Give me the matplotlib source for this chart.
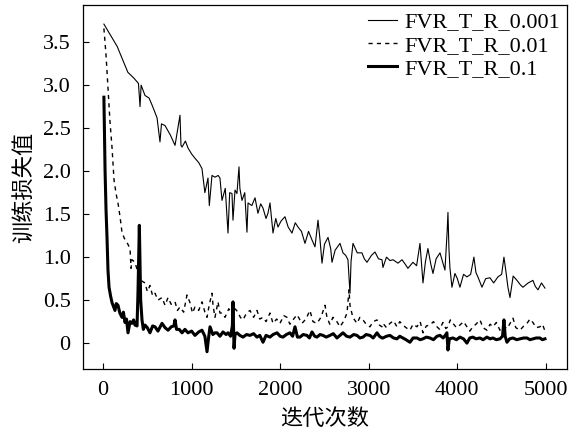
import numpy as np
import matplotlib
matplotlib.use("Agg")
import matplotlib.pyplot as plt

plt.rcParams['font.family'] = ['Liberation Serif', 'Noto Sans CJK SC']
plt.rcParams['font.size'] = 16

# (iteration, loss)
loss_0001 = [(10, 3.71), (160, 3.45), (280, 3.15), (350, 3.08), (400, 3.02), (418, 2.75), (430, 3.00),
             (474, 2.88), (520, 2.85), (553, 2.77), (610, 2.62), (643, 2.34), (660, 2.55), (700, 2.53),
             (760, 2.42), (813, 2.30), (869, 2.65), (880, 2.30), (892, 2.28), (930, 2.35), (959, 2.27),
             (1000, 2.20), (1038, 2.15), (1080, 2.10), (1117, 2.03), (1150, 1.75), (1185, 1.92),
             (1200, 1.60), (1230, 1.95), (1264, 1.93), (1300, 1.95), (1320, 1.92), (1343, 1.66),
             (1380, 1.80), (1411, 1.28), (1430, 1.75), (1456, 1.74), (1467, 1.43), (1490, 1.78),
             (1512, 1.74), (1535, 2.05), (1545, 1.80), (1569, 1.66), (1600, 1.75), (1625, 1.29),
             (1637, 1.63), (1680, 1.60), (1716, 1.69), (1749, 1.51), (1780, 1.62), (1806, 1.57),
             (1840, 1.45), (1862, 1.51), (1885, 1.63), (1919, 1.28), (1950, 1.45), (1975, 1.35),
             (2010, 1.42), (2054, 1.47), (2090, 1.35), (2133, 1.28), (2170, 1.40), (2201, 1.35),
             (2240, 1.30), (2280, 1.16), (2320, 1.30), (2359, 1.20), (2393, 1.12), (2427, 1.43),
             (2450, 1.20), (2472, 0.93), (2500, 1.15), (2540, 1.23), (2570, 1.10), (2585, 0.94),
             (2620, 1.08), (2675, 1.16), (2709, 1.05), (2740, 1.02), (2765, 0.97), (2788, 0.58),
             (2800, 0.95), (2822, 1.16), (2870, 1.05), (2923, 1.05), (2950, 0.98), (2980, 0.94),
             (3030, 1.02), (3070, 1.06), (3110, 0.98), (3149, 0.97), (3160, 0.88), (3200, 1.00),
             (3240, 0.96), (3273, 0.97), (3330, 0.93), (3375, 0.97), (3410, 0.92), (3442, 0.87),
             (3499, 0.94), (3540, 0.90), (3578, 1.16), (3612, 0.70), (3640, 0.95), (3668, 1.10),
             (3700, 0.92), (3725, 0.81), (3760, 0.98), (3804, 1.05), (3840, 0.92), (3860, 0.85),
             (3885, 1.30), (3894, 1.52), (3905, 1.10), (3916, 0.88), (3939, 0.65), (3973, 0.81),
             (4000, 0.75), (4029, 0.65), (4070, 0.80), (4108, 0.77), (4150, 0.80), (4187, 1.00),
             (4210, 0.82), (4232, 0.77), (4278, 0.65), (4320, 0.75), (4368, 0.76), (4410, 0.70),
             (4458, 0.77), (4500, 0.80), (4526, 1.00), (4550, 0.82), (4571, 0.65), (4594, 0.53),
             (4630, 0.78), (4673, 0.73), (4710, 0.68), (4740, 0.65), (4800, 0.70), (4853, 0.73),
             (4880, 0.66), (4910, 0.62), (4950, 0.70), (4989, 0.64)]

loss_001 = [(10, 3.66), (34, 3.35), (56, 2.97), (79, 2.57), (102, 2.27), (124, 1.90), (147, 1.74),
            (169, 1.63), (192, 1.47), (214, 1.29), (240, 1.22), (271, 1.17), (305, 1.10), (316, 0.87),
            (327, 0.97), (361, 0.94), (400, 0.80), (440, 0.72), (474, 0.70), (500, 0.60), (530, 0.67),
            (560, 0.55), (587, 0.58), (620, 0.50), (666, 0.53), (700, 0.44), (734, 0.53), (770, 0.45),
            (813, 0.48), (840, 0.38), (869, 0.42), (910, 0.36), (948, 0.56), (982, 0.47), (1010, 0.35),
            (1038, 0.42), (1080, 0.38), (1117, 0.48), (1150, 0.36), (1174, 0.30), (1200, 0.45),
            (1230, 0.58), (1242, 0.44), (1264, 0.30), (1298, 0.48), (1320, 0.35), (1343, 0.35),
            (1377, 0.30), (1420, 0.40), (1460, 0.32), (1490, 0.40), (1524, 0.36), (1550, 0.30),
            (1580, 0.27), (1620, 0.35), (1659, 0.38), (1700, 0.30), (1738, 0.38), (1770, 0.28),
            (1806, 0.30), (1840, 0.25), (1885, 0.35), (1919, 0.23), (1960, 0.28), (1998, 0.23),
            (2040, 0.32), (2077, 0.30), (2110, 0.22), (2144, 0.27), (2190, 0.33), (2246, 0.23),
            (2290, 0.28), (2336, 0.38), (2370, 0.25), (2415, 0.23), (2460, 0.30), (2506, 0.44),
            (2528, 0.30), (2560, 0.22), (2596, 0.30), (2640, 0.25), (2675, 0.19), (2720, 0.26),
            (2754, 0.35), (2777, 0.62), (2788, 0.44), (2820, 0.30), (2867, 0.23), (2900, 0.30),
            (2935, 0.27), (2970, 0.22), (3013, 0.19), (3050, 0.25), (3093, 0.27), (3120, 0.21),
            (3149, 0.19), (3160, 0.23), (3200, 0.18), (3239, 0.23), (3280, 0.26), (3318, 0.19),
            (3350, 0.25), (3386, 0.21), (3420, 0.18), (3465, 0.15), (3500, 0.22), (3544, 0.19),
            (3580, 0.25), (3612, 0.12), (3650, 0.20), (3691, 0.21), (3730, 0.25), (3770, 0.19),
            (3800, 0.16), (3837, 0.24), (3870, 0.17), (3894, 0.19), (3920, 0.27), (3950, 0.23),
            (3990, 0.18), (4029, 0.21), (4070, 0.25), (4108, 0.19), (4140, 0.14), (4176, 0.19),
            (4210, 0.22), (4255, 0.27), (4290, 0.18), (4334, 0.15), (4370, 0.22), (4402, 0.19),
            (4440, 0.24), (4481, 0.15), (4520, 0.20), (4560, 0.17), (4590, 0.22), (4628, 0.29),
            (4660, 0.18), (4707, 0.15), (4750, 0.20), (4786, 0.23), (4820, 0.28), (4853, 0.24),
            (4890, 0.18), (4932, 0.19), (4960, 0.22), (4990, 0.14)]

loss_01 = [(10, 2.86), (15, 2.50), (23, 2.01), (34, 1.55), (45, 1.23), (56, 0.85), (68, 0.65), (85, 0.55),
           (102, 0.47), (120, 0.42), (135, 0.38), (150, 0.46), (169, 0.44), (190, 0.35), (214, 0.30),
           (230, 0.36), (248, 0.24), (265, 0.28), (282, 0.12), (305, 0.25), (327, 0.23), (345, 0.27),
           (361, 0.21), (384, 0.20), (395, 0.60), (410, 1.37), (425, 0.50), (440, 0.27), (455, 0.16),
           (474, 0.21), (500, 0.18), (530, 0.12), (560, 0.20), (587, 0.19), (620, 0.14), (666, 0.23),
           (700, 0.18), (734, 0.15), (770, 0.19), (800, 0.20), (813, 0.27), (830, 0.16), (860, 0.16),
           (892, 0.12), (925, 0.16), (959, 0.12), (1000, 0.14), (1038, 0.09), (1080, 0.13), (1117, 0.15),
           (1150, 0.08), (1174, -0.10), (1190, 0.05), (1208, 0.19), (1240, 0.10), (1264, 0.12),
           (1287, 0.12), (1320, 0.08), (1354, 0.13), (1390, 0.10), (1411, 0.12), (1440, 0.08),
           (1460, 0.20), (1467, 0.48), (1474, 0.15), (1479, -0.06), (1490, 0.10), (1512, 0.12),
           (1545, 0.09), (1580, 0.07), (1620, 0.10), (1659, 0.09), (1700, 0.11), (1738, 0.07),
           (1770, 0.09), (1806, 0.01), (1840, 0.09), (1885, 0.07), (1920, 0.10), (1964, 0.12),
           (2000, 0.08), (2032, 0.07), (2070, 0.10), (2110, 0.12), (2140, 0.08), (2167, 0.19),
           (2195, 0.07), (2223, 0.07), (2260, 0.10), (2302, 0.09), (2330, 0.06), (2359, 0.13),
           (2390, 0.08), (2415, 0.07), (2450, 0.10), (2483, 0.09), (2520, 0.07), (2562, 0.09),
           (2600, 0.11), (2641, 0.06), (2675, 0.09), (2709, 0.12), (2750, 0.08), (2788, 0.07),
           (2830, 0.10), (2867, 0.09), (2900, 0.06), (2935, 0.07), (2970, 0.10), (3013, 0.09),
           (3050, 0.06), (3093, 0.12), (3120, 0.08), (3149, 0.06), (3160, 0.06), (3200, 0.08),
           (3239, 0.09), (3280, 0.06), (3318, 0.05), (3350, 0.08), (3386, 0.06), (3420, 0.04),
           (3465, 0.01), (3500, 0.06), (3544, 0.06), (3580, 0.04), (3612, 0.05), (3650, 0.07),
           (3691, 0.06), (3730, 0.04), (3770, 0.08), (3804, 0.09), (3840, 0.06), (3870, 0.10),
           (3882, 0.12), (3894, -0.08), (3910, 0.05), (3950, 0.06), (3990, 0.04), (4029, 0.07),
           (4070, 0.05), (4108, 0.00), (4140, 0.06), (4176, 0.07), (4210, 0.05), (4255, 0.06),
           (4290, 0.04), (4334, 0.07), (4370, 0.05), (4402, 0.06), (4440, 0.04), (4481, 0.05),
           (4510, 0.08), (4526, 0.27), (4540, 0.08), (4560, 0.01), (4590, 0.05), (4628, 0.06),
           (4670, 0.04), (4707, 0.05), (4750, 0.06), (4786, 0.06), (4820, 0.04), (4853, 0.05),
           (4890, 0.06), (4932, 0.06), (4960, 0.04), (4989, 0.05)]

labels = ['FVR_T_R_0.001', 'FVR_T_R_0.01', 'FVR_T_R_0.1']
xticks = [0, 1000, 2000, 3000, 4000, 5000]
yticks = [0, 0.5, 1.0, 1.5, 2.0, 2.5, 3.0, 3.5]
ytick_labels = ['0', '0.5', '1.0', '1.5', '2.0', '2.5', '3.0', '3.5']

fig = plt.figure(figsize=(5.77, 4.32), dpi=100)
ax = fig.add_axes([0.144, 0.146, 0.839, 0.842])

x1, y1 = np.array(loss_0001).T
x2, y2 = np.array(loss_001).T
x3, y3 = np.array(loss_01).T
ax.plot(x1, y1, '-', color='k', lw=0.8, label=labels[0])
ax.plot(x2, y2, color='k', lw=1.0, linestyle=(0, (3, 3)), label=labels[1])
ax.plot(x3, y3, '-', color='k', lw=2.2, label=labels[2])

ax.set_xlim(-225, 5240)
ax.set_ylim(-0.30, 3.93)
ax.set_xticks(xticks)
ax.set_yticks(yticks)
ax.set_yticklabels(ytick_labels)
ax.tick_params(direction='in', length=4, width=0.8, pad=9)
for s in ax.spines.values():
    s.set_linewidth(0.9)

ax.set_xlabel('迭代次数', family=['Noto Sans CJK SC'], labelpad=5)
ax.set_ylabel('训练损失值', family=['Noto Sans CJK SC'], labelpad=5)

ax.legend(loc='upper right', frameon=False, handlelength=1.3, handletextpad=0.35,
          labelspacing=0.12, borderaxespad=0.1, borderpad=0.2)

fig.savefig('out.png', dpi=100)
